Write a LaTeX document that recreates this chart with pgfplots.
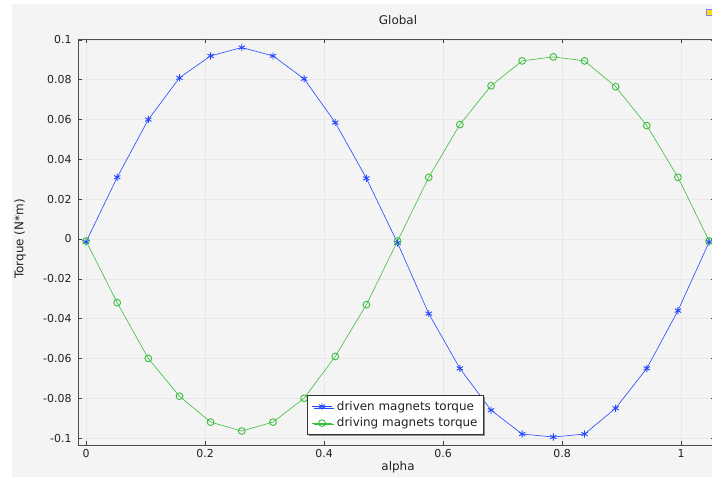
\documentclass[border=0pt]{standalone}
\usepackage{pgfplots}
\pgfplotsset{compat=1.18}
\usepackage{fontspec}
\setmainfont{DejaVu Sans}
\usetikzlibrary{shadows}
\definecolor{bg}{HTML}{F4F4F4}
\definecolor{drivenc}{RGB}{35,70,255}
\definecolor{drivingc}{RGB}{60,190,60}
\definecolor{txt}{HTML}{222222}
\begin{document}
\begin{tikzpicture}[x=1bp,y=1bp]
\useasboundingbox (0,0) rectangle (712,477);
\fill[white] (0,0) rectangle (712,477);
\fill[bg] (12,0) rectangle (712,473);
\begin{scope}
\clip (0,0) rectangle (712,477);
\begin{axis}[
  at={(78bp,32bp)}, anchor=south west, scale only axis,
  width=637bp, height=406bp,
  xmin=-0.01345, xmax=1.0571, ymin=-0.1035, ymax=0.1005,
  axis background/.style={fill=bg},
  axis line style={draw=black!70, line width=0.8bp},
  grid=major, grid style={draw=black!9, line width=0.6bp},
  tick align=inside, major tick length=4bp,
  tick style={draw=black!75, line width=0.6bp},
  xtick={0,0.2,0.4,0.6,0.8,1},
  xticklabels={0,0.2,0.4,0.6,0.8,1},
  ytick={-0.1,-0.08,-0.06,-0.04,-0.02,0,0.02,0.04,0.06,0.08,0.1},
  yticklabels={-0.1,-0.08,-0.06,-0.04,-0.02,0,0.02,0.04,0.06,0.08,0.1},
  ticklabel style={font=\fontsize{11}{13}\selectfont, text=txt},
  yticklabel style={xshift=-3bp},
  xticklabel style={yshift=-1bp},
  /pgf/number format/assume math mode=true,
  legend cell align=left,
  legend style={at={(0.36,0.026)}, anchor=south west, draw=black!80, fill=white,
    font=\fontsize{12}{14}\selectfont, text=txt, line width=0.8bp,
    inner sep=4bp, row sep=3bp, column sep=3bp,
    nodes={inner sep=1.6bp},
    drop shadow={shadow xshift=1.5bp, shadow yshift=-1.5bp, fill=black!45, opacity=1}},
  legend image code/.code={\draw[mark repeat=2,mark phase=2] plot coordinates {(0bp,0bp) (10bp,0bp) (20bp,0bp)};},
]
\addplot[color=drivenc, line width=0.6bp, mark=asterisk, mark size=3.6bp, mark options={line width=0.9bp}] coordinates {
(0.0000,-0.0015) (0.0524,0.0310) (0.1047,0.0600) (0.1571,0.0810) (0.2094,0.0920)
(0.2618,0.0962) (0.3142,0.0920) (0.3665,0.0805) (0.4189,0.0585) (0.4712,0.0305)
(0.5236,-0.0020) (0.5760,-0.0375) (0.6283,-0.0650) (0.6807,-0.0860) (0.7330,-0.0980)
(0.7854,-0.0995) (0.8378,-0.0980) (0.8901,-0.0850) (0.9425,-0.0650) (0.9948,-0.0360)
(1.0472,-0.0015)
};
\addlegendentry{driven magnets torque}
\addplot[color=drivingc, line width=0.6bp, mark=o, mark size=3.4bp, mark options={line width=0.9bp}] coordinates {
(0.0000,-0.0010) (0.0524,-0.0320) (0.1047,-0.0600) (0.1571,-0.0790) (0.2094,-0.0920)
(0.2618,-0.0965) (0.3142,-0.0920) (0.3665,-0.0800) (0.4189,-0.0590) (0.4712,-0.0330)
(0.5236,-0.0010) (0.5760,0.0310) (0.6283,0.0575) (0.6807,0.0770) (0.7330,0.0895)
(0.7854,0.0915) (0.8378,0.0895) (0.8901,0.0765) (0.9425,0.0570) (0.9948,0.0310)
(1.0472,-0.0010)
};
\addlegendentry{driving magnets torque}
\end{axis}
\end{scope}
\node[text=txt, font=\fontsize{12}{14}\selectfont] at (398,457) {Global};
\node[text=txt, font=\fontsize{12}{14}\selectfont, rotate=90] at (20,238) {Torque (N*m)};
\node[text=txt, font=\fontsize{12}{14}\selectfont] at (398,10) {alpha};
\fill[yellow!80!orange] (706,462) rectangle (712,468);
\draw[blue!50, line width=0.6bp] (706,462) rectangle (712,468);
\end{tikzpicture}
\end{document}
